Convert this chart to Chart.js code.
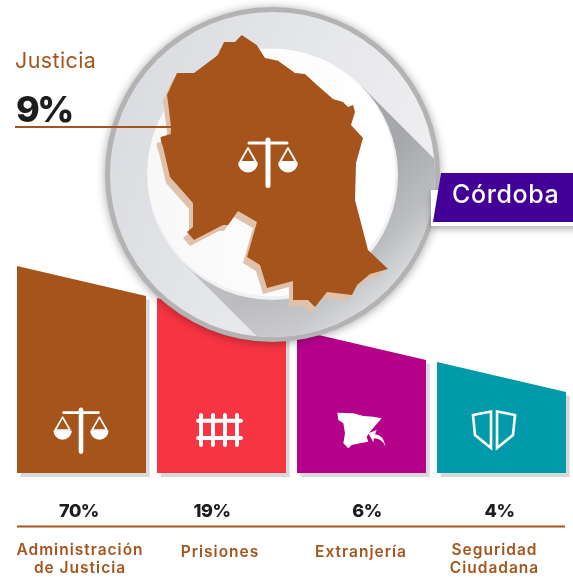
<!DOCTYPE html>
<html><head><meta charset="utf-8">
<style>html,body{margin:0;padding:0;background:#fff}canvas{display:block}</style>
<script src="https://cdn.jsdelivr.net/npm/chart.js@4/dist/chart.umd.min.js"></script>
</head><body><canvas id="c" width="573" height="578"></canvas>
<script>
const categories = [["Administración","de Justicia"],["Prisiones"],["Extranjería"],["Seguridad","Ciudadana"]];
const sharePercent = [70,19,6,4];
const panelLeftHeight = [207,175,143,111];
const panelRightHeight = [177,145,113,81];
const panelColors = ["#a5551b","#f73442","#b5008a","#009aab"];
const regionName = "Córdoba";
const regionTopic = "Justicia";
const regionShare = 9;

const BROWN="#a5551b", INK="#1d1d1b";
const FONT="Inter, 'Open Sans', sans-serif";
const MAP=[[241.7,35],[256.7,45],[265,58],[278,60.7],[295,73],[305,74],[317,85],[333,99],[343,102],[348,107],[353,105],[355,112],[351,125],[363,138],[356,163],[355,200],[368,250],[388,269],[370,274],[357,285],[352,295],[327,292],[315,307],[308,300],[293,300],[293,281],[267,288],[260,265],[247,257],[257,222],[238,211],[228,225],[223,225],[194,240],[187,232],[193,227],[193,203],[170,177],[163,147],[160.7,140],[160.7,137],[170.7,134],[171,127],[168,102],[167,95],[177,73],[194,73],[218,55],[224,42],[235,42]];

function poly(ctx,pts,dx=0,dy=0){ctx.beginPath();pts.forEach((p,i)=>i?ctx.lineTo(p[0]+dx,p[1]+dy):ctx.moveTo(p[0]+dx,p[1]+dy));ctx.closePath();}

function drawScales(ctx,cx,top,s){
  ctx.save();ctx.translate(cx,top);ctx.scale(s,s);
  ctx.strokeStyle="#fff";ctx.fillStyle="#fff";ctx.lineCap="round";
  ctx.lineWidth=5;ctx.beginPath();ctx.moveTo(0,3);ctx.lineTo(0,48.5);ctx.stroke();
  ctx.lineWidth=3;ctx.beginPath();ctx.moveTo(-19,6);ctx.lineTo(19,6);ctx.stroke();
  [-20,20].forEach(o=>{
    ctx.lineWidth=1.8;ctx.lineJoin="round";
    ctx.beginPath();ctx.moveTo(o,11);ctx.lineTo(o-8,25);ctx.lineTo(o+8,25);ctx.closePath();ctx.stroke();
    ctx.beginPath();ctx.moveTo(o-10,25.5);ctx.lineTo(o+10,25.5);ctx.arc(o,25.5,10,0,Math.PI);ctx.closePath();ctx.fill();
  });
  ctx.restore();
}
function drawBars(ctx){
  ctx.save();ctx.strokeStyle="#fff";ctx.lineCap="round";ctx.lineWidth=4;
  [420.7,438].forEach(y=>{ctx.beginPath();ctx.moveTo(198,y);ctx.lineTo(241,y);ctx.stroke();});
  [201,213,225,237].forEach(x=>{ctx.beginPath();ctx.moveTo(x,415);ctx.lineTo(x,445);ctx.stroke();});
  ctx.restore();
}
function drawSpain(ctx){
  ctx.save();ctx.translate(320,400);ctx.scale(1/3,1/3);ctx.fillStyle="#fff";
  poly(ctx,[[52,38],[100,40],[130,48],[160,50],[185,55],[170,72],[150,95],[140,110],[145,125],[120,130],[95,135],[85,145],[70,130],[75,100],[70,70],[55,60]]);ctx.fill();
  ctx.beginPath();ctx.moveTo(197,140);ctx.quadraticCurveTo(190,105,165,103);ctx.lineTo(170,90);ctx.lineTo(145,100);ctx.lineTo(160,127);ctx.lineTo(162,115);ctx.quadraticCurveTo(185,115,197,140);ctx.closePath();ctx.fill();
  ctx.restore();
}
function drawShield(ctx){
  ctx.save();ctx.strokeStyle="#fff";ctx.lineWidth=2.6;ctx.lineJoin="miter";
  poly(ctx,[[473,415],[491,411.5],[491,448],[475,435]]);ctx.stroke();
  poly(ctx,[[497,411.5],[515,415],[513,435],[497,448]]);ctx.stroke();
  ctx.restore();
}
function drawMedallion(ctx){
  const cx=272.5,cy=174.5,R=167.5,r=125.5;
  ctx.save();
  ctx.shadowColor="rgba(0,0,0,.35)";ctx.shadowBlur=10;ctx.shadowOffsetY=1;
  ctx.fillStyle="#b3b3b3";ctx.beginPath();ctx.arc(cx,cy,R,0,7);ctx.fill();
  ctx.restore();
  ctx.save();
  let g=ctx.createLinearGradient(105,100,440,230);
  g.addColorStop(0,"#d9dbe0");g.addColorStop(.5,"#e6e7ea");g.addColorStop(1,"#f0f0f2");
  ctx.fillStyle=g;ctx.beginPath();ctx.arc(cx,cy,R-5,0,7);ctx.fill();
  ctx.beginPath();ctx.arc(cx,cy,R-5,0,7);ctx.clip();
  const k=Math.SQRT1_2;
  g=ctx.createLinearGradient(cx+k*(r-60),cy+k*(r-60),cx+k*(R+8),cy+k*(R+8));
  g.addColorStop(0,"#a6a7aa");g.addColorStop(.55,"#bcbdc0");g.addColorStop(1,"#e2e3e5");
  ctx.fillStyle=g;
  const ux=r*k,uy=-r*k,L=260;
  const band=[[cx+ux,cy+uy],[cx+ux+L,cy+uy+L],[cx-ux+L,cy-uy+L],[cx-ux,cy-uy]];
  poly(ctx,band);ctx.fill();
  g=ctx.createLinearGradient(350,250,230,340);
  g.addColorStop(0,"rgba(255,255,255,0)");g.addColorStop(1,"rgba(255,255,255,.3)");
  ctx.fillStyle=g;poly(ctx,band);ctx.fill();
  ctx.restore();
  ctx.fillStyle="#eef0f2";ctx.beginPath();ctx.arc(cx,cy,r,0,7);ctx.fill();
  g=ctx.createLinearGradient(147,174,398,174);g.addColorStop(0,"#f8f8f8");g.addColorStop(.6,"#fdfdfd");g.addColorStop(1,"#ffffff");
  ctx.fillStyle=g;ctx.beginPath();ctx.arc(cx-1,cy-2,r-1.5,0,7);ctx.fill();
  ctx.fillStyle="#e0c1ac";poly(ctx,MAP,-4,6);ctx.fill();
  ctx.fillStyle=BROWN;poly(ctx,MAP);ctx.fill();
  drawScales(ctx,268,137,1);
}
const infographic={
  id:"infographic",
  afterUpdate(chart){
    const shifts=[-1.5,-1.5,-0.5,-7], lifts=[0,2,2,0];
    chart.scales.x.getLabelItems().forEach((it,i)=>{it.options.translation[0]+=shifts[i];it.options.translation[1]+=lifts[i];});
  },
  beforeDraw(chart){chart.ctx.letterSpacing="1px";},
  beforeDatasetDraw(chart,args){
    const ctx=chart.ctx,y=chart.scales.y;
    args.meta.data.forEach((el,i)=>{
      const l=el.x-el.width/2,r=el.x+el.width/2,b=y.getPixelForValue(0);
      const tl=y.getPixelForValue(panelLeftHeight[i]),tr=y.getPixelForValue(panelRightHeight[i]);
      const pts=[[l,tl],[r,tr],[r,b],[l,b]];
      ctx.fillStyle="#d9d9d9";poly(ctx,pts,3.7,4);ctx.fill();
      ctx.fillStyle=panelColors[i];poly(ctx,pts);ctx.fill();
    });
    return false;
  },
  afterDatasetsDraw(chart){
    const ctx=chart.ctx,x=chart.scales.x;
    drawScales(ctx,81,407,.92);drawBars(ctx);drawSpain(ctx);drawShield(ctx);
    drawMedallion(ctx);
    ctx.fillStyle=BROWN;ctx.fillRect(15,126,156,2);
    ctx.textAlign="left";ctx.textBaseline="alphabetic";
    ctx.letterSpacing="0.4px";
    ctx.fillStyle=BROWN;ctx.font="400 21.5px "+FONT;ctx.fillText(regionTopic,15,68);
    ctx.letterSpacing="-2.5px";
    ctx.fillStyle=INK;ctx.font="800 36px "+FONT;ctx.fillText(regionShare+"%",16,122);
    ctx.save();ctx.shadowColor="rgba(0,0,0,.3)";ctx.shadowBlur=7;ctx.shadowOffsetY=3;
    ctx.fillStyle="#fff";ctx.fillRect(431,190,150,36);ctx.restore();
    ctx.fillStyle="#420096";poly(ctx,[[441,173],[573,173],[573,222],[433,222]]);ctx.fill();
    ctx.letterSpacing="0.6px";
    ctx.fillStyle="#fff";ctx.font="500 25px "+FONT;ctx.fillText(regionName,452,203);
    const off=[-2.5,-9.5,5.5,-2];
    ctx.letterSpacing="-0.5px";
    ctx.textAlign="center";ctx.fillStyle=INK;ctx.font="800 18px "+FONT;
    sharePercent.forEach((v,i)=>ctx.fillText(v+"%",x.getPixelForTick(i)+off[i],517));
    ctx.fillStyle=BROWN;ctx.fillRect(17,525.5,548,2);
  }
};
new Chart(document.getElementById("c"),{
  type:"bar",
  data:{labels:categories,datasets:[{data:panelLeftHeight,backgroundColor:panelColors,barPercentage:129/140,categoryPercentage:1}]},
  plugins:[infographic],
  options:{
    responsive:false,animation:false,
    layout:{padding:{left:11.5,right:1.5,top:0,bottom:0}},
    plugins:{legend:{display:false},tooltip:{enabled:false},title:{display:false}},
    scales:{
      x:{grid:{display:false},border:{display:false},
         afterFit(s){s.height=105;s.paddingLeft=0;s.paddingRight=0;},
         ticks:{autoSkip:false,maxRotation:0,minRotation:0,padding:61,color:BROWN,
                font:{family:FONT,size:15.5,weight:"600",lineHeight:1.13}}},
      y:{display:false,min:0,max:473}
    }
  }
});
</script></body></html>
